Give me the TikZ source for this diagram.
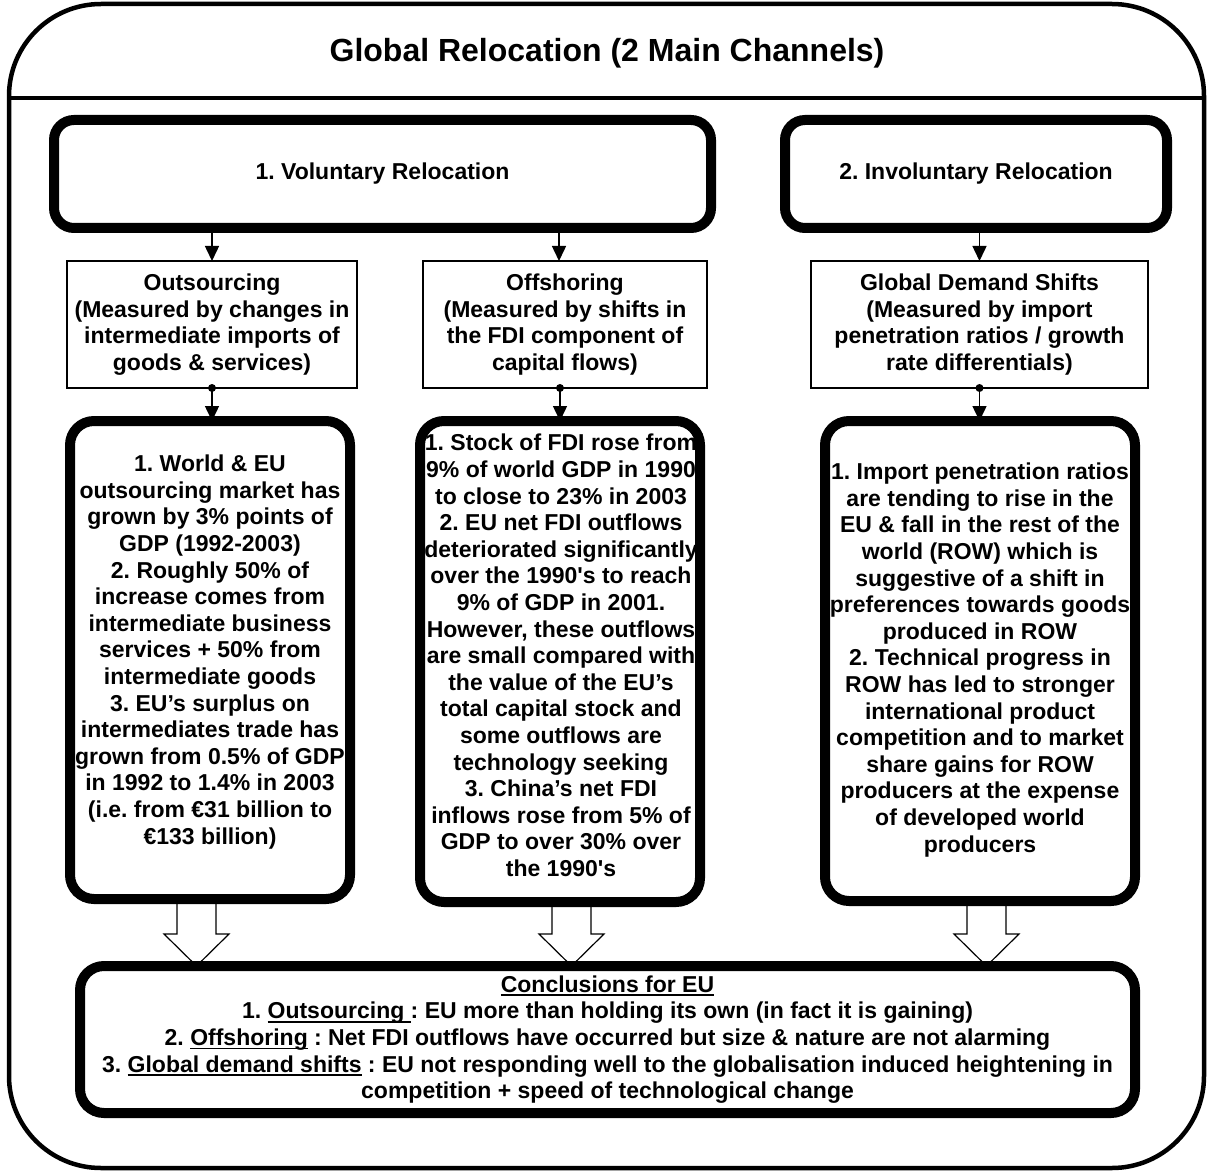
\documentclass[tikz,border=0pt]{standalone}
\usepackage{fontspec}
\setmainfont{Liberation Sans}
\usetikzlibrary{arrows.meta,calc}
\pgfdeclarelayer{paper}
\pgfdeclarelayer{under}
\pgfsetlayers{paper,under,main}
\frenchspacing

% underline drawn as a rule under a box of text
\newcommand\ulx[1]{\setbox0\hbox{#1}\rlap{\rule[-4pt]{\wd0}{1.8pt}}\box0{}}
\newcommand\bodyfont{\fontsize{23}{26.6}\selectfont\bfseries}

% hollow block arrow from the bottom of #1 to the top of #2, shifted by #3
\newcommand\hollowarrow[3]{%
  \draw[hollow] let \p1=([xshift=#3]#1.south), \p2=(#2.north) in
    (\x1-19.5pt,\y1) -- (\x1-19.5pt,\y2+32pt) -- (\x1-32.5pt,\y2+32pt)
    -- (\x1,\y2) -- (\x1+32.5pt,\y2+32pt) -- (\x1+19.5pt,\y2+32pt)
    -- (\x1+19.5pt,\y1);}

\begin{document}
\begin{tikzpicture}[x=1pt,y=-1pt,
  frame/.style={line width=4.5pt},
  headbox/.style={draw, line width=10pt, rounded corners=20pt, fill=white,
    inner sep=0pt, outer sep=0pt, align=center, font=\bodyfont},
  measbox/.style={draw, line width=2.4pt, fill=white, inner sep=0pt,
    outer sep=0pt, align=center, font=\bodyfont},
  detailbox/.style={draw, line width=10pt, rounded corners=24pt, fill=white,
    inner sep=0pt, outer sep=0pt},
  bodytext/.style={align=center, inner sep=0pt, font=\bodyfont},
  conn/.style={line width=1.5pt, -{Triangle[width=14pt,length=15pt]}},
  hollow/.style={draw, line width=1.2pt, fill=white, line join=miter},
  dot/.style={fill=black}]

\begin{pgfonlayer}{paper}
  \fill[white] (0,0) rectangle (1213,1174);
\end{pgfonlayer}
\useasboundingbox (0,0) rectangle (1213,1174);

% outer frame with its title band
\draw[frame, rounded corners=92pt] (9,4) rectangle (1204,1168);
\draw[frame] (9,98) -- (1204,98);
\node[inner sep=0pt, font=\fontsize{32}{36}\selectfont\bfseries] (title) at (607,53)
  {Global Relocation (2 Main Channels)};

% the two channels
\node[headbox, minimum width=657pt, minimum height=108pt] (vol) at (382.5,174)
  {1. Voluntary Relocation};
\node[headbox, minimum width=382pt, minimum height=108pt] (inv) at (976,174)
  {2. Involuntary Relocation};

% how each channel is measured
\node[measbox, minimum width=290pt, minimum height=127pt] (outs) at (212,324.5)
  {Outsourcing\\(Measured by changes in\\intermediate imports of\\goods \& services)};
\node[measbox, minimum width=284pt, minimum height=127pt] (offs) at (565,324.5)
  {Offshoring\\(Measured by shifts in\\the FDI component of\\capital flows)};
\node[measbox, minimum width=337pt, minimum height=127pt] (glob) at (979.5,324.5)
  {Global Demand Shifts\\(Measured by import\\penetration ratios / growth\\rate differentials)};

% findings
\node[detailbox, minimum width=280pt, minimum height=478pt] (d1) at (210,660) {};
\node[bodytext] (d1t) at (210,652)
  {1. World \& EU\\outsourcing market has\\grown by 3\% points of\\GDP (1992-2003)\\
   2. Roughly 50\% of\\increase comes from\\intermediate business\\services + 50\% from\\
   intermediate goods\\3. EU’s surplus on\\intermediates trade has\\grown from 0.5\% of GDP\\
   in 1992 to 1.4\% in 2003\\(i.e. from €31 billion to\\€133 billion)};

\node[detailbox, minimum width=280pt, minimum height=481pt] (d2) at (560,661.5) {};
\node[bodytext] (d2t) at (561,655.5)
  {1. Stock of FDI rose from\\9\% of world GDP in 1990\\to close to 23\% in 2003\\
   2. EU net FDI outflows\\deteriorated significantly\\over the 1990\textquotesingle s to reach\\
   9\% of GDP in 2001.\\However, these outflows\\are small compared with\\
   the value of the EU’s\\total capital stock and\\some outflows are\\technology seeking\\
   3. China’s net FDI\\inflows rose from 5\% of\\GDP to over 30\% over\\the 1990\textquotesingle s};

\node[detailbox, minimum width=310pt, minimum height=480pt] (d3) at (980,661) {};
\node[bodytext] (d3t) at (980,660)
  {1. Import penetration ratios\\are tending to rise in the\\EU \& fall in the rest of the\\
   world (ROW) which is\\suggestive of a shift in\\preferences towards goods\\
   produced in ROW\\2. Technical progress in\\ROW has led to stronger\\
   international product\\competition and to market\\share gains for ROW\\
   producers at the expense\\of developed world\\producers};

% conclusions
\node[detailbox, minimum width=1055pt, minimum height=147pt, align=center,
  font=\bodyfont] (concl) at (607.5,1039.5)
  {\ulx{Conclusions for EU}\\
   1. \ulx{Outsourcing\ }: EU more than holding its own (in fact it is gaining)\\
   2. \ulx{Offshoring} : Net FDI outflows have occurred but size \& nature are not alarming\\
   3. \ulx{Global demand shifts} : EU not responding well to the globalisation induced heightening in\\
   competition + speed of technological change};

% block arrows into the conclusions, kept beneath the boxes
\begin{pgfonlayer}{under}
  \hollowarrow{d1}{concl}{-13.5pt}
  \hollowarrow{d2}{concl}{11.5pt}
  \hollowarrow{d3}{concl}{6.5pt}
\end{pgfonlayer}

% connectors from the channels to their measures
\fill[dot] (outs.north |- vol.south) circle (4pt);
\draw[conn] (outs.north |- vol.south) -- (outs.north);
\fill[dot] ([xshift=-6pt]offs.north |- vol.south) circle (4pt);
\draw[conn] ([xshift=-6pt]offs.north |- vol.south) -- ([xshift=-6pt]offs.north);
\fill[dot] (glob.north |- inv.south) circle (4pt);
\draw[conn] (glob.north |- inv.south) -- (glob.north);

% connectors from the measures to their findings
\fill[dot] (outs.south) circle (4pt);
\draw[conn] (outs.south) -- (outs.south |- d1.north);
\fill[dot] ([xshift=-5pt]offs.south) circle (4pt);
\draw[conn] ([xshift=-5pt]offs.south) -- ([xshift=-5pt]offs.south |- d2.north);
\fill[dot] (glob.south) circle (4pt);
\draw[conn] (glob.south) -- (glob.south |- d3.north);
\end{tikzpicture}
\end{document}
